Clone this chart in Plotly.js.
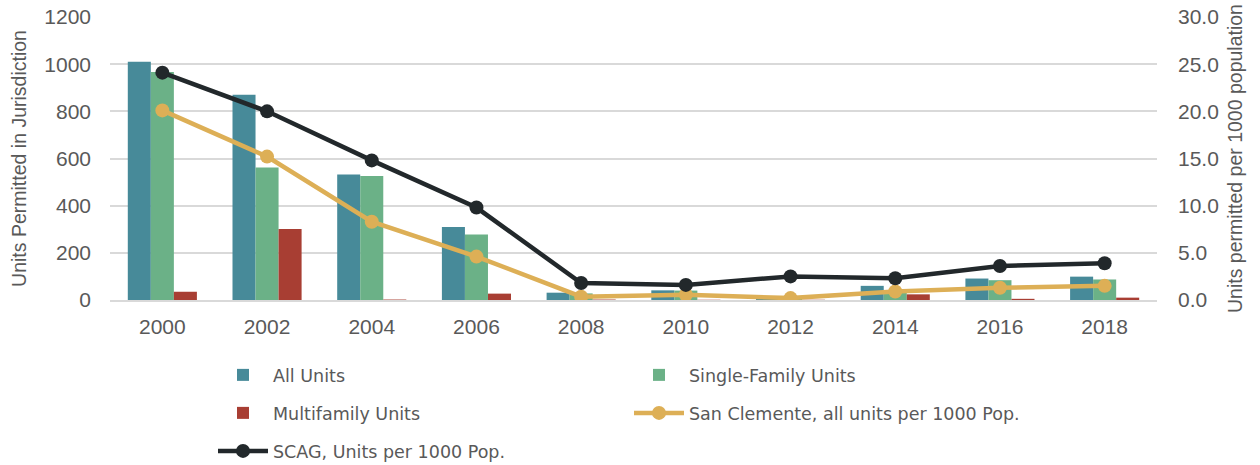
<!DOCTYPE html>
<html>
<head>
<meta charset="utf-8">
<script src="https://cdn.plot.ly/plotly-3.0.1.min.js"></script>
<style>html,body{margin:0;padding:0;background:#fff;}#chart{width:1260px;height:465px;}</style>
</head>
<body>
<div id="chart"></div>
<script>
const years = ['2000','2002','2004','2006','2008','2010','2012','2014','2016','2018'];
const allUnits = [1010, 870, 532, 310, 31, 41, 7, 60, 91, 99];
const singleFamily = [967, 562, 526, 278, 28, 40, 5, 40, 84, 87];
const multiFamily = [35, 301, 2, 27, 2, 1, 1, 24, 5, 10];
const sanClemente = [20.1, 15.2, 8.3, 4.6, 0.35, 0.55, 0.2, 0.9, 1.3, 1.5];
const scag = [24.1, 20.0, 14.8, 9.8, 1.8, 1.6, 2.5, 2.3, 3.6, 3.9];

const txt = '#595959';
const legFont = {family: "'DejaVu Sans', sans-serif", size: 17.5, color: txt};
const tickFont = {family: "'Liberation Sans', Arial, sans-serif", size: 21, color: txt};
const titleFont = {family: "'Liberation Sans', Arial, sans-serif", size: 19.5, color: txt};

const traces = [
  {type: 'bar', name: 'All Units', x: years, y: allUnits, marker: {color: '#478A99'}, legend: 'legend'},
  {type: 'bar', name: 'Single-Family Units', x: years, y: singleFamily, marker: {color: '#6BB187'}, legend: 'legend'},
  {type: 'bar', name: 'Multifamily Units', x: years, y: multiFamily, marker: {color: '#A83E33'}, legend: 'legend2'},
  {type: 'scatter', mode: 'lines+markers', name: 'San Clemente, all units per 1000 Pop.', x: years, y: sanClemente, yaxis: 'y2',
   line: {color: '#DDAF56', width: 4.5}, marker: {color: '#DDAF56', size: 14}, legend: 'legend2'},
  {type: 'scatter', mode: 'lines+markers', name: 'SCAG, Units per 1000 Pop.', x: years, y: scag, yaxis: 'y2',
   line: {color: '#22282B', width: 4.5}, marker: {color: '#22282B', size: 14}, legend: 'legend3'}
];

const legBase = {orientation: 'h', xref: 'container', yref: 'container', xanchor: 'left', yanchor: 'middle',
  font: legFont, entrywidth: 351, entrywidthmode: 'pixels', itemwidth: 50, bgcolor: 'rgba(0,0,0,0)', traceorder: 'normal'};

const layout = {
  width: 1260, height: 465,
  margin: {l: 110, r: 103, t: 17, b: 165, autoexpand: false},
  paper_bgcolor: '#fff', plot_bgcolor: '#fff',
  barmode: 'group', bargap: 0.34, bargroupgap: 0,
  xaxis: {type: 'category', range: [-0.5, years.length - 0.5], tickfont: tickFont, showgrid: false, showline: true,
    linecolor: '#D9D9D9', linewidth: 2, ticks: '', ticklabelstandoff: 7, automargin: false},
  yaxis: {range: [0, 1200], dtick: 200, tickfont: tickFont, gridcolor: '#D9D9D9', gridwidth: 2, zeroline: false,
    ticks: '', ticklabelstandoff: 18, automargin: false,
    title: {text: 'Units Permitted in Jurisdiction', font: titleFont, standoff: 12}},
  yaxis2: {range: [0, 30], dtick: 5, tickformat: '.1f', overlaying: 'y', side: 'right', showgrid: false, zeroline: false,
    tickfont: tickFont, ticks: '', ticklabelstandoff: 20, automargin: false,
    title: {text: 'Units permitted per 1000 population', font: titleFont, standoff: 10}},
  legend: Object.assign({}, legBase, {x: 213/1260, y: 1 - 375/465}),
  legend2: Object.assign({}, legBase, {x: 213/1260, y: 1 - 413/465}),
  legend3: Object.assign({}, legBase, {x: 213/1260, y: 1 - 451/465}),
  showlegend: true
};

Plotly.newPlot('chart', traces, layout, {displayModeBar: false, staticPlot: true});
</script>
</body>
</html>
